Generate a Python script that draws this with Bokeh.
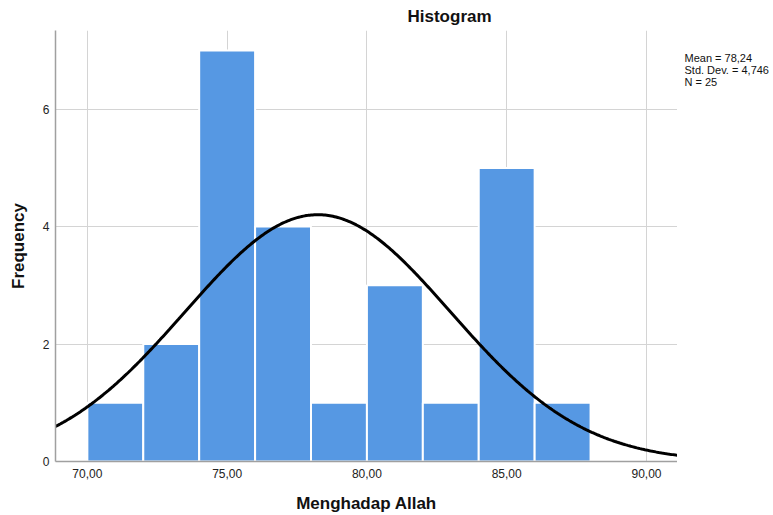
import numpy as np
from bokeh.plotting import figure
from bokeh.models import Range1d, FixedTicker, Plot, ColumnDataSource, Text
from bokeh.layouts import row
from bokeh.core.properties import value
from bokeh.embed import file_html
from bokeh.resources import INLINE

# ---- data ----
bin_edges = [70, 72, 74, 76, 78, 80, 82, 84, 86, 88]
counts = [1, 2, 7, 4, 1, 3, 1, 5, 1]
x_ticks = [70, 75, 80, 85, 90]
x_tick_labels = ["70,00", "75,00", "80,00", "85,00", "90,00"]
y_ticks = [0, 2, 4, 6]
mean_val = 78.24
std_val = 4.746
n_val = 25
stats_lines = ["Mean = 78,24", "Std. Dev. = 4,746", "N = 25"]
title_text = "Histogram"
x_label = "Menghadap Allah"
y_label = "Frequency"

FONT = "Liberation Sans"
BAR = "#5698E3"
GRID = "#d4d4d4"

x0, x1 = 68.86, 91.11
y0, y1 = 0, 7.34
MAIN_W, SIDE_W, H = 677, 96, 515
TOP, BOTTOM = 29, 54
FRAME_H = H - TOP - BOTTOM

p = figure(width=MAIN_W, height=H, output_backend="svg", toolbar_location=None,
           x_range=Range1d(x0, x1), y_range=Range1d(y0, y1),
           min_border_left=55, min_border_right=0,
           min_border_top=TOP, min_border_bottom=BOTTOM)
p.outline_line_color = None
p.background_fill_color = "white"
p.border_fill_color = "white"

# title
p.title.text = title_text
p.title.align = "left"
p.title.offset = 352
p.title.text_font = FONT
p.title.text_font_size = "17px"
p.title.text_font_style = "bold"
p.title.text_color = "#111111"
p.title.standoff = 9

# grid
p.xgrid.ticker = FixedTicker(ticks=x_ticks)
p.ygrid.ticker = FixedTicker(ticks=y_ticks)
p.grid.grid_line_color = GRID
p.grid.grid_line_width = 1

# bars
p.quad(left=bin_edges[:-1], right=bin_edges[1:], bottom=0, top=counts,
       fill_color=BAR, line_color="white", line_width=2)

# normal curve from the stated mean / sd / N (bin width 2)
bw = bin_edges[1] - bin_edges[0]
xs = np.linspace(x0, x1, 400)
ys = n_val * bw / (std_val * np.sqrt(2 * np.pi)) * np.exp(-0.5 * ((xs - mean_val) / std_val) ** 2)
p.line(xs, ys, line_color="black", line_width=3)

# axes
p.xaxis.ticker = FixedTicker(ticks=x_ticks)
p.xaxis.major_label_overrides = {t: l for t, l in zip(x_ticks, x_tick_labels)}
p.yaxis.ticker = FixedTicker(ticks=y_ticks)
for ax in (p.xaxis, p.yaxis):
    ax.major_tick_line_color = None
    ax.minor_tick_line_color = None
    ax.major_tick_out = 0
    ax.major_tick_in = 0
    ax.axis_line_color = "#a0a0a0"
    ax.axis_line_width = 1.5
    ax.major_label_text_font = FONT
    ax.major_label_text_font_size = "12px"
    ax.major_label_text_color = "#222222"
    ax.axis_label_text_font = FONT
    ax.axis_label_text_font_size = "17px"
    ax.axis_label_text_font_style = "bold"
    ax.axis_label_text_color = "#111111"

p.xaxis.axis_label = x_label
p.xaxis.major_label_standoff = 7
p.xaxis.axis_label_standoff = 13
p.yaxis.axis_label = y_label
p.yaxis.major_label_standoff = 6
p.yaxis.axis_label_standoff = 12

# side panel with the summary statistics; its frame lines up with the main frame
s = Plot(width=SIDE_W, height=H, output_backend="svg", toolbar_location=None,
         x_range=Range1d(0, SIDE_W), y_range=Range1d(0, FRAME_H), title=None,
         min_border_left=0, min_border_right=0, min_border_top=TOP,
         min_border_bottom=BOTTOM, outline_line_color=None,
         background_fill_color="white", border_fill_color="white")
src = ColumnDataSource(dict(
    x=[7] * len(stats_lines),
    y=[FRAME_H - (57 - TOP) - 12 * i for i in range(len(stats_lines))],
    t=stats_lines))
s.add_glyph(src, Text(x="x", y="y", text="t", text_align="left", text_baseline="middle",
                      text_font=value(FONT), text_font_size="11px",
                      text_color="#111111"))

layout = row(p, s, spacing=0)
open("out.html", "w").write(file_html(layout, INLINE))
